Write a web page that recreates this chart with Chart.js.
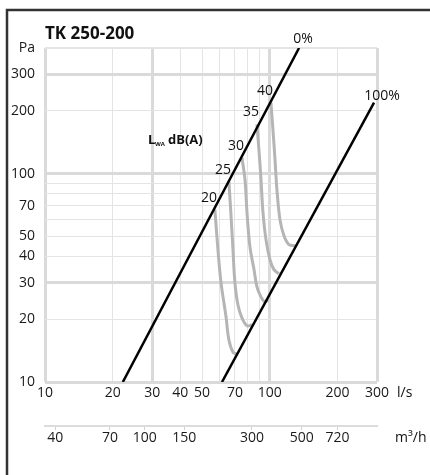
<!DOCTYPE html>
<html>
<head>
<meta charset="utf-8">
<script src="https://cdn.jsdelivr.net/npm/chart.js@4.4.0/dist/chart.umd.min.js"></script>
<style>
body { margin: 0; background: #fff; }
</style>
</head>
<body>
<canvas id="myChart" width="430" height="475"></canvas>
<script>
// axis ticks
const flowTicks = [10, 20, 30, 40, 50, 70, 100, 200, 300];
const flowGrid = [10, 20, 30, 40, 50, 60, 70, 80, 90, 100, 200, 300];
const paTicks = [10, 20, 30, 40, 50, 70, 100, 200, 300];
const paGrid = [10, 20, 30, 40, 50, 60, 70, 80, 90, 100, 200, 300, 400];
const m3hTicks = [40, 70, 100, 150, 300, 500, 720];

// damper lines (l/s, Pa)
const damper0Flow = [22.2, 135];
const damper0Pa = [10, 400];
const damper100Flow = [61.3, 291];
const damper100Pa = [10, 219];

// sound level curves LwA dB(A)
const dbLabels = ['20', '25', '30', '35', '40'];
const lw20Flow = [57.0, 58.8, 60.7, 63.9, 65.8, 68.6, 71.5];
const lw20Pa = [67.1, 43.1, 29.9, 20.5, 15.9, 13.9, 13.6];
const lw25Flow = [65.8, 67.2, 68.6, 70.0, 72.2, 75.2, 79.2, 83.3];
const lw25Pa = [91.5, 63.5, 43.1, 29.9, 23.4, 20.3, 18.6, 18.8];
const lw30Flow = [75.2, 77.6, 79.2, 81.6, 85.1, 87.7, 91.4, 95.2, 98.2];
const lw30Pa = [119, 93.6, 64.9, 44.6, 34.6, 28.6, 25.6, 24.2, 24.8];
const lw35Flow = [87.7, 89.5, 91.4, 93.3, 96.2, 100.2, 104.4, 109.9];
const lw35Pa = [172, 130, 93.6, 64.9, 48.2, 38.6, 34.6, 33.0];
const lw40Flow = [101.2, 103.3, 105.5, 107.6, 111.0, 115.7, 121.7, 129.4];
const lw40Pa = [219, 163, 117, 83.8, 60.1, 50.3, 45.6, 45.1];

const thickFlow = [10, 30, 100, 300];
const thickPa = [10, 30, 100, 300];

function pts(xs, ys) {
    return xs.map((x, i) => ({ x: x, y: ys[i] }));
}

const curves = [
    pts(lw20Flow, lw20Pa),
    pts(lw25Flow, lw25Pa),
    pts(lw30Flow, lw30Pa),
    pts(lw35Flow, lw35Pa),
    pts(lw40Flow, lw40Pa)
];

const FONT = "'Open Sans', sans-serif";
Chart.defaults.font.family = FONT;
Chart.defaults.font.size = 14;
Chart.defaults.color = '#1a1a1a';

const datasets = [
    { data: pts(damper0Flow, damper0Pa), borderColor: '#000', borderWidth: 2.5 },
    { data: pts(damper100Flow, damper100Pa), borderColor: '#000', borderWidth: 2.5 }
];
curves.forEach(c => {
    datasets.push({
        data: c,
        borderColor: '#b5b5b5',
        borderWidth: 3,
        tension: 0.35
    });
});

const decor = {
    id: 'decor',
    beforeDraw(chart) {
        const c = chart.ctx;
        c.save();
        c.fillStyle = '#fff';
        c.fillRect(0, 0, chart.width, chart.height);
        c.strokeStyle = '#333';
        c.lineWidth = 2.5;
        c.beginPath();
        c.moveTo(7, chart.height);
        c.lineTo(7, 10);
        c.lineTo(chart.width, 10);
        c.stroke();
        c.restore();
    },
    afterDraw(chart) {
        const c = chart.ctx;
        const xs = chart.scales.x;
        const ys = chart.scales.y;
        const area = chart.chartArea;
        c.save();
        c.fillStyle = '#111';
        c.textBaseline = 'middle';

        c.font = 'bold 17px ' + FONT;
        c.textAlign = 'left';
        c.fillText('TK 250-200', area.left, 34);

        c.font = 'bold 13px ' + FONT;
        c.fillText('L', 148, 140);
        c.font = 'bold 6px ' + FONT;
        c.fillText('WA', 155, 144);
        c.font = 'bold 13px ' + FONT;
        c.fillText('dB(A)', 168, 140);

        c.font = '14px ' + FONT;
        c.textAlign = 'center';
        c.fillText('0%', xs.getPixelForValue(damper0Flow[1]) + 4, ys.getPixelForValue(damper0Pa[1]) - 9);
        c.fillText('100%', xs.getPixelForValue(damper100Flow[1]) + 8, ys.getPixelForValue(damper100Pa[1]) - 7);

        c.textAlign = 'right';
        curves.forEach((pt, i) => {
            const px = xs.getPixelForValue(pt[0].x);
            const py = ys.getPixelForValue(pt[0].y);
            c.fillText(dbLabels[i], px + 2, py - 12);
        });

        c.textAlign = 'left';
        c.fillText('l/s', area.right + 20, 393);
        c.fillText('m³/h', area.right + 18, 438);
        c.restore();
    }
};

const ctx = document.getElementById('myChart');

new Chart(ctx, {
    type: 'line',
    data: { datasets: datasets },
    options: {
        responsive: false,
        animation: false,
        devicePixelRatio: 1,
        layout: { padding: { top: 48, right: 53, left: 0, bottom: 0 } },
        elements: { point: { radius: 0 } },
        plugins: { legend: { display: false }, tooltip: { enabled: false } },
        scales: {
            x: {
                type: 'logarithmic',
                position: 'bottom',
                weight: 0,
                min: 10,
                max: 300,
                afterBuildTicks: s => { s.ticks = flowGrid.map(v => ({ value: v })); },
                afterFit: s => { s.height = 44; },
                border: { display: false },
                grid: {
                    drawTicks: false,
                    color: ctx => thickFlow.includes(ctx.tick.value) ? '#dadada' : '#e4e4e4',
                    lineWidth: ctx => thickFlow.includes(ctx.tick.value) ? 3 : 1
                },
                ticks: {
                    autoSkip: false,
                    maxRotation: 0,
                    padding: 3,
                    callback: v => flowTicks.includes(v) ? String(v) : ''
                }
            },
            x2: {
                type: 'logarithmic',
                position: 'bottom',
                weight: 1,
                min: 36,
                max: 1080,
                afterBuildTicks: s => { s.ticks = m3hTicks.map(v => ({ value: v })); },
                afterFit: s => { s.height = 49; },
                border: { display: true, color: '#dcdcdc', width: 2 },
                grid: {
                    drawOnChartArea: false,
                    drawTicks: true,
                    tickLength: 4,
                    color: '#cfcfcf',
                    lineWidth: 1
                },
                ticks: {
                    autoSkip: false,
                    maxRotation: 0,
                    padding: 0,
                    callback: v => String(v)
                }
            },
            y: {
                type: 'logarithmic',
                position: 'left',
                min: 10,
                max: 400,
                afterBuildTicks: s => { s.ticks = paGrid.map(v => ({ value: v })); },
                afterFit: s => { s.width = 45; },
                border: { display: false },
                grid: {
                    drawTicks: false,
                    color: ctx => thickPa.includes(ctx.tick.value) ? '#dadada' : '#e4e4e4',
                    lineWidth: ctx => thickPa.includes(ctx.tick.value) ? 3 : (ctx.tick.value === 400 ? 2 : 1)
                },
                ticks: {
                    autoSkip: false,
                    padding: 10,
                    callback: v => v === 400 ? 'Pa' : (paTicks.includes(v) ? String(v) : '')
                }
            }
        }
    },
    plugins: [decor]
});
</script>
</body>
</html>
